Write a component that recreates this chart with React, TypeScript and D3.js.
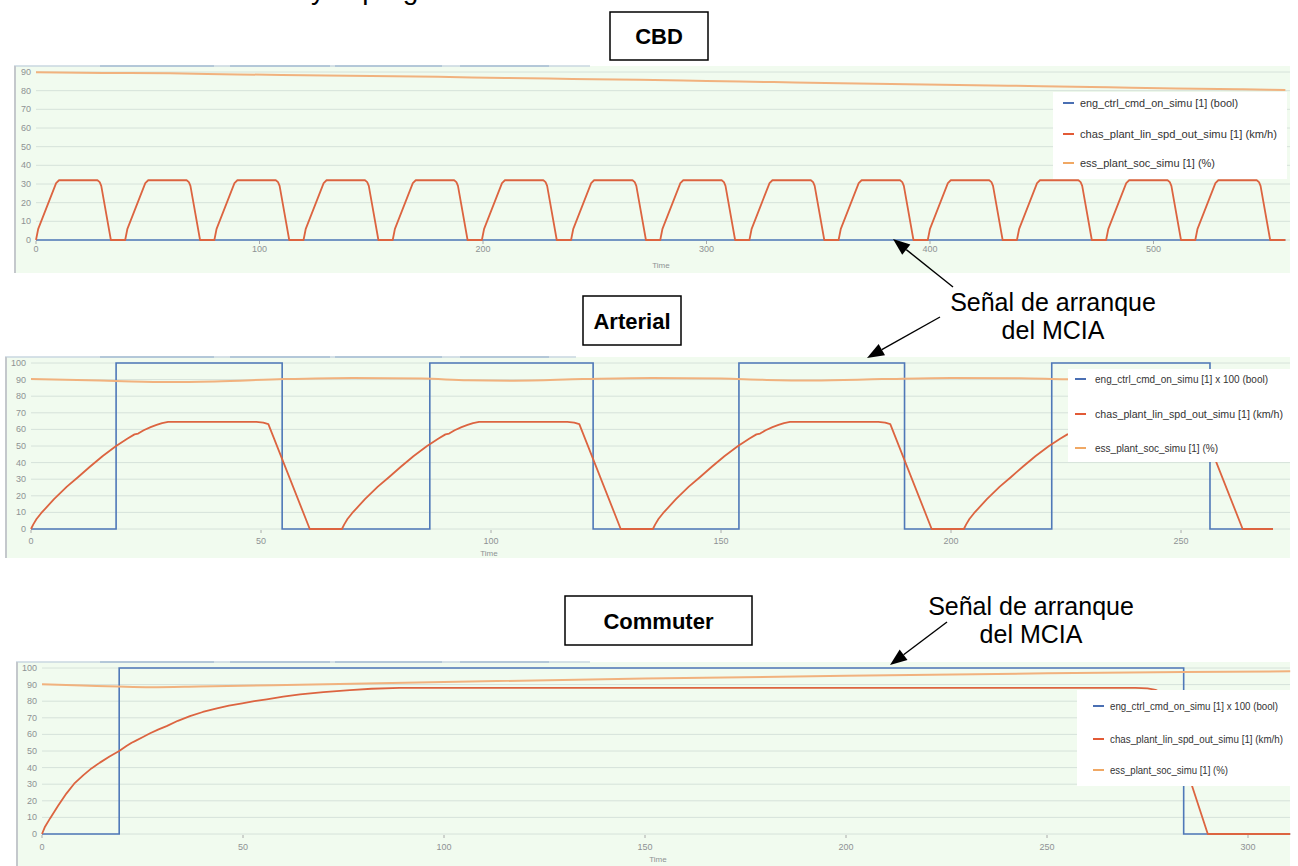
import React from "react";
import * as d3 from "d3";

type Pt = [number, number];

// ---------------- DATA ----------------
const cbdXTicks = [0, 100, 200, 300, 400, 500];
const cbdYTicks = [0, 10, 20, 30, 40, 50, 60, 70, 80, 90];
const cbdEngine: Pt[] = [[0, 0], [559, 0]];
const cbdSpeed: Pt[] = [
  [0, 0], [1, 6], [9, 30.5], [10.3, 32], [27.5, 32], [28.5, 31], [29.2, 29], [33.5, 0],
  [39.9, 0], [40.9, 6], [48.9, 30.5], [50.2, 32], [67.4, 32], [68.4, 31], [69.1, 29], [73.4, 0],
  [79.8, 0], [80.8, 6], [88.8, 30.5], [90.1, 32], [107.3, 32], [108.3, 31], [109, 29], [113.3, 0],
  [119.7, 0], [120.7, 6], [128.7, 30.5], [130, 32], [147.2, 32], [148.2, 31], [148.9, 29], [153.2, 0],
  [159.6, 0], [160.6, 6], [168.6, 30.5], [169.9, 32], [187.1, 32], [188.1, 31], [188.8, 29], [193.1, 0],
  [199.5, 0], [200.5, 6], [208.5, 30.5], [209.8, 32], [227, 32], [228, 31], [228.7, 29], [233, 0],
  [239.4, 0], [240.4, 6], [248.4, 30.5], [249.7, 32], [266.9, 32], [267.9, 31], [268.6, 29], [272.9, 0],
  [279.3, 0], [280.3, 6], [288.3, 30.5], [289.6, 32], [306.8, 32], [307.8, 31], [308.5, 29], [312.8, 0],
  [319.2, 0], [320.2, 6], [328.2, 30.5], [329.5, 32], [346.7, 32], [347.7, 31], [348.4, 29], [352.7, 0],
  [359.1, 0], [360.1, 6], [368.1, 30.5], [369.4, 32], [386.6, 32], [387.6, 31], [388.3, 29], [392.6, 0],
  [399, 0], [400, 6], [408, 30.5], [409.3, 32], [426.5, 32], [427.5, 31], [428.2, 29], [432.5, 0],
  [438.9, 0], [439.9, 6], [447.9, 30.5], [449.2, 32], [466.4, 32], [467.4, 31], [468.1, 29], [472.4, 0],
  [478.8, 0], [479.8, 6], [487.8, 30.5], [489.1, 32], [506.3, 32], [507.3, 31], [508, 29], [512.3, 0],
  [518.7, 0], [519.7, 6], [527.7, 30.5], [529, 32], [546.2, 32], [547.2, 31], [547.9, 29], [552.2, 0],
  [559, 0],
];
const cbdSoc: Pt[] = [
  [0, 89.8], [30, 89.5], [60, 89.3], [90, 88.7], [120, 88.3], [150, 87.9], [180, 87.4],
  [210, 86.8], [240, 86.3], [270, 85.8], [300, 85.2], [330, 84.6], [360, 84.0], [390, 83.5],
  [420, 82.9], [450, 82.4], [480, 81.8], [510, 81.2], [540, 80.7], [559, 80.4],
];

const artXTicks = [0, 50, 100, 150, 200, 250];
const artYTicks = [0, 10, 20, 30, 40, 50, 60, 70, 80, 90, 100];
const artEngine: Pt[] = [
  [0, 0], [18.5, 0], [18.5, 100], [54.6, 100], [54.6, 0], [86.7, 0], [86.7, 100], [122.2, 100],
  [122.2, 0], [153.9, 0], [153.9, 100], [189.9, 100], [189.9, 0], [221.9, 0], [221.9, 100],
  [256.3, 100], [256.3, 0], [270, 0],
];
const artSpeed: Pt[] = [
  [0, 0], [0.5, 2.8], [1.2, 6], [2.2, 9.5], [5, 18], [7.8, 25.5], [10.2, 31.2], [12.8, 37.5], [15.6, 44], [18.5, 50], [21, 54.5], [22.5, 57], [23.3, 57.5], [24.5, 59.5], [26, 61.4], [27.3, 62.7], [28.5, 63.8], [29.8, 64.5], [49, 64.5], [50.5, 64.1], [51.6, 63.2], [60.6, 0],
  [67.6, 0], [68.1, 2.8], [68.8, 6], [69.8, 9.5], [72.6, 18], [75.4, 25.5], [77.8, 31.2], [80.4, 37.5], [83.2, 44], [86.1, 50], [88.6, 54.5], [90.1, 57], [90.9, 57.5], [92.1, 59.5], [93.6, 61.4], [94.9, 62.7], [96.1, 63.8], [97.4, 64.5], [116.6, 64.5], [118.1, 64.1], [119.2, 63.2], [128.2, 0],
  [135.2, 0], [135.7, 2.8], [136.4, 6], [137.4, 9.5], [140.2, 18], [143, 25.5], [145.4, 31.2], [148, 37.5], [150.8, 44], [153.7, 50], [156.2, 54.5], [157.7, 57], [158.5, 57.5], [159.7, 59.5], [161.2, 61.4], [162.5, 62.7], [163.7, 63.8], [165, 64.5], [184.2, 64.5], [185.7, 64.1], [186.8, 63.2], [195.8, 0],
  [202.8, 0], [203.3, 2.8], [204, 6], [205, 9.5], [207.8, 18], [210.6, 25.5], [213, 31.2], [215.6, 37.5], [218.4, 44], [221.3, 50], [223.8, 54.5], [225.3, 57], [226.1, 57.5], [227.3, 59.5], [228.8, 61.4], [230.1, 62.7], [231.3, 63.8], [232.6, 64.5], [251.8, 64.5], [253.3, 64.1], [254.4, 63.2], [263.4, 0],
  [270, 0],
];
const artSoc: Pt[] = [
  [0, 90.3], [10, 89.8], [20, 89.0], [30, 88.5], [40, 88.9], [55, 90.3], [70, 91.0], [85, 90.6],
  [95, 89.6], [105, 89.3], [120, 90.3], [135, 91.0], [150, 90.6], [160, 89.8], [170, 89.5],
  [185, 90.3], [200, 91.0], [215, 90.8], [225, 90.2], [240, 89.9], [258, 90.2], [270, 90.5],
];

const comXTicks = [0, 50, 100, 150, 200, 250, 300];
const comYTicks = [0, 10, 20, 30, 40, 50, 60, 70, 80, 90, 100];
const comEngine: Pt[] = [[0, 0], [19.2, 0], [19.2, 100], [284, 100], [284, 0], [310.5, 0]];
const comSpeed: Pt[] = [
  [0, 0], [0.75, 4.4], [2, 9.4], [4, 17], [6.1, 24.5], [8, 30.3], [10.3, 35.5], [12.3, 39.5],
  [14.4, 43], [16.8, 46.7], [19.2, 50], [21, 53], [22.3, 55], [23, 55.8], [25, 58.3], [26.9, 60.7],
  [29, 63], [31, 65], [33.8, 68.2], [36.8, 71], [40, 73.5], [43.5, 75.7], [46.5, 77.3], [49.8, 78.7],
  [52.8, 80], [55.9, 81.1], [60, 82.7], [64.2, 84.1], [70, 85.5], [76.6, 86.7], [82, 87.5], [89, 88],
  [272, 88], [275, 87.7], [277, 86.8], [278.5, 85], [290, 0], [310.5, 0],
];
const comSoc: Pt[] = [
  [0, 90.2], [10, 89.5], [19, 88.8], [27, 88.4], [39, 88.8], [64, 89.9], [100, 91.6],
  [150, 93.6], [200, 95.3], [250, 96.8], [284, 97.6], [310.5, 98],
];

const legendCbd = ["eng_ctrl_cmd_on_simu [1] (bool)", "chas_plant_lin_spd_out_simu [1] (km/h)", "ess_plant_soc_simu [1] (%)"];
const legendX100 = ["eng_ctrl_cmd_on_simu [1] x 100 (bool)", "chas_plant_lin_spd_out_simu [1] (km/h)", "ess_plant_soc_simu [1] (%)"];

// ---------------- STYLE / LAYOUT ----------------
const BLUE = "#4f78b8";
const RED = "#dc6440";
const ORANGE = "#f1b27e";
const LEG_COLORS = ["#4a6fb3", "#e25a36", "#f0a864"];
const BG = "#f1fbef";
const GRID = "#d6e2da";
const TICK = "#8e9294";
const FONT = "'Liberation Sans', Arial, sans-serif";

interface PanelCfg {
  bg: { x: number; y: number; w: number; h: number };
  xd: [number, number]; xr: [number, number];
  yd: [number, number]; yr: [number, number];
  xTicks: number[]; yTicks: number[];
  engine: Pt[]; speed: Pt[]; soc: Pt[];
  labelY: number; timeX: number; timeY: number; gridRight: number;
  topSegs: [number, number][]; topEnd: number;
  legend: { x: number; y: number; w: number; h: number; lineX: number; textX: number; ys: number[]; labels: string[]; lens: number[] };
}

const panels: PanelCfg[] = [
  {
    bg: { x: 14, y: 66, w: 1276, h: 207 },
    xd: [0, 560], xr: [36, 36 + 560 * 2.235],
    yd: [0, 90], yr: [240, 72],
    xTicks: cbdXTicks, yTicks: cbdYTicks,
    engine: cbdEngine, speed: cbdSpeed, soc: cbdSoc,
    labelY: 252, timeX: 661, timeY: 268, gridRight: 1290,
    topSegs: [[100, 214], [230, 330], [335, 442], [460, 549]], topEnd: 590,
    legend: { x: 1053, y: 92, w: 234, h: 87, lineX: 1063, textX: 1080, ys: [103, 134, 163], labels: legendCbd, lens: [158, 197, 135] },
  },
  {
    bg: { x: 5, y: 357, w: 1285, h: 201 },
    xd: [0, 270], xr: [31, 31 + 270 * 4.6],
    yd: [0, 100], yr: [529, 363],
    xTicks: artXTicks, yTicks: artYTicks,
    engine: artEngine, speed: artSpeed, soc: artSoc,
    labelY: 544, timeX: 489, timeY: 556, gridRight: 1290,
    topSegs: [[100, 214], [230, 330], [335, 442], [460, 549]], topEnd: 576,
    legend: { x: 1068, y: 369, w: 222, h: 93, lineX: 1075, textX: 1095, ys: [379, 414, 448], labels: legendX100, lens: [173, 188, 123] },
  },
  {
    bg: { x: 16, y: 662, w: 1274, h: 204 },
    xd: [0, 310.5], xr: [42, 42 + 310.5 * 4.02],
    yd: [0, 100], yr: [834, 668],
    xTicks: comXTicks, yTicks: comYTicks,
    engine: comEngine, speed: comSpeed, soc: comSoc,
    labelY: 850, timeX: 658, timeY: 862, gridRight: 1290,
    topSegs: [[100, 214], [230, 330], [335, 442], [460, 549]], topEnd: 590,
    legend: { x: 1077, y: 690, w: 213, h: 96, lineX: 1093, textX: 1110, ys: [706, 739, 770], labels: legendX100, lens: [168, 173, 118] },
  },
];

function Panel({ p }: { p: PanelCfg }) {
  const x = d3.scaleLinear().domain(p.xd).range(p.xr);
  const y = d3.scaleLinear().domain(p.yd).range(p.yr);
  const line = d3.line<Pt>().x((d) => x(d[0])).y((d) => y(d[1]));
  const smooth = d3.line<Pt>().x((d) => x(d[0])).y((d) => y(d[1])).curve(d3.curveMonotoneX);
  const x0 = p.xr[0];
  const L = p.legend;
  return (
    <g>
      <rect x={p.bg.x} y={p.bg.y} width={p.bg.w} height={p.bg.h} fill={BG} />
      <line x1={p.bg.x} x2={p.topEnd} y1={p.bg.y} y2={p.bg.y} stroke="#c9d7e0" strokeWidth={1.5} />
      {p.topSegs.map((s, i) => (
        <line key={i} x1={s[0]} x2={s[1]} y1={p.bg.y} y2={p.bg.y} stroke="#a8bfd4" strokeWidth={1.5} />
      ))}
      <line x1={p.bg.x + 1} x2={p.bg.x + 1} y1={p.bg.y} y2={p.bg.y + p.bg.h} stroke="#c4c8cc" strokeWidth={2} />
      {p.yTicks.map((t) => (
        <g key={t}>
          <line x1={x0} x2={p.gridRight} y1={y(t)} y2={y(t)} stroke={GRID} strokeWidth={1} />
          <text x={x0 - 5} y={y(t) + 3} textAnchor="end" fontSize={9} fill={TICK} fontFamily={FONT}>{t}</text>
        </g>
      ))}
      {p.xTicks.map((t) => (
        <g key={t}>
          <line x1={x(t)} x2={x(t)} y1={p.yr[0] + 1} y2={p.yr[0] + 4} stroke="#aaa" strokeWidth={1} />
          <text x={x(t)} y={p.labelY} textAnchor="middle" fontSize={9} fill={TICK} fontFamily={FONT}>{t}</text>
        </g>
      ))}
      <text x={p.timeX} y={p.timeY} textAnchor="middle" fontSize={8} fill={TICK} fontFamily={FONT}>Time</text>
      <path d={line(p.engine) || ""} fill="none" stroke={BLUE} strokeWidth={1.6} />
      <path d={smooth(p.soc) || ""} fill="none" stroke={ORANGE} strokeWidth={2} />
      <path d={line(p.speed) || ""} fill="none" stroke={RED} strokeWidth={1.8} strokeLinejoin="round" />
      <rect x={L.x} y={L.y} width={L.w} height={L.h} fill="#ffffff" />
      {L.labels.map((lab, i) => (
        <g key={i}>
          <line x1={L.lineX} x2={L.lineX + 11} y1={L.ys[i]} y2={L.ys[i]} stroke={LEG_COLORS[i]} strokeWidth={2} />
          <text x={L.textX} y={L.ys[i] + 3.5} fontSize={10.5} fill="#333" fontFamily={FONT} textLength={L.lens[i]} lengthAdjust="spacingAndGlyphs">{lab}</text>
        </g>
      ))}
    </g>
  );
}

function Arrow({ x1, y1, x2, y2 }: { x1: number; y1: number; x2: number; y2: number }) {
  const a = Math.atan2(y2 - y1, x2 - x1);
  const len = 17, half = 6.5;
  const bx = x2 - len * Math.cos(a), by = y2 - len * Math.sin(a);
  const px = -Math.sin(a) * half, py = Math.cos(a) * half;
  return (
    <g>
      <line x1={x1} y1={y1} x2={bx} y2={by} stroke="#000" strokeWidth={1.4} />
      <path d={`M${x2},${y2}L${bx + px},${by + py}L${bx - px},${by - py}Z`} fill="#000" />
    </g>
  );
}

function Box({ x, y, w, h, label }: { x: number; y: number; w: number; h: number; label: string }) {
  return (
    <g>
      <rect x={x} y={y} width={w} height={h} fill="#fff" stroke="#000" strokeWidth={1.5} />
      <text x={x + w / 2} y={y + h / 2 + 8} textAnchor="middle" fontSize={22} fontWeight="bold" fontFamily={FONT} fill="#000">{label}</text>
    </g>
  );
}

export default function App() {
  return (
    <svg width={1298} height={866} style={{ position: "absolute", left: 0, top: 0, background: "#fff" }}>
      <text x={303} y={-1} textAnchor="end" fontSize={28} fontFamily={FONT} fill="#000">Funcionamiento del MCIA</text>
      <text x={311} y={-1} fontSize={28} fontFamily={FONT} fill="#000">y el programa de conducción</text>
      {panels.map((p, i) => <Panel key={i} p={p} />)}
      <Box x={610} y={12} w={98} h={48} label="CBD" />
      <Box x={583} y={296} w={98} h={49} label="Arterial" />
      <Box x={565} y={596} w={187} h={49} label="Commuter" />
      <g fontFamily={FONT} fontSize={25} fill="#000" textAnchor="middle">
        <text x={1053} y={311}>Señal de arranque</text>
        <text x={1053} y={339}>del MCIA</text>
        <text x={1031} y={615}>Señal de arranque</text>
        <text x={1031} y={643}>del MCIA</text>
      </g>
      <Arrow x1={953} y1={287} x2={893} y2={239} />
      <Arrow x1={940} y1={317} x2={867} y2={358} />
      <Arrow x1={947} y1={622} x2={890} y2={665} />
    </svg>
  );
}
